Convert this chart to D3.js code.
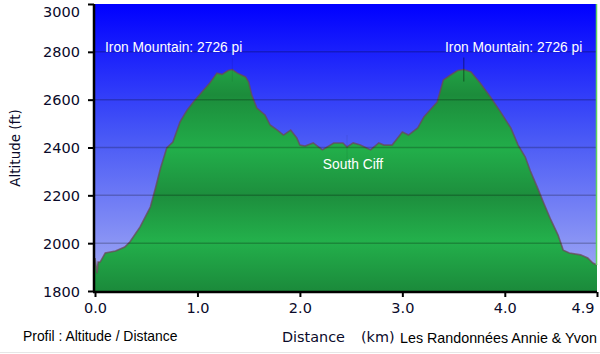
<!DOCTYPE html>
<html>
<head>
<meta charset="utf-8">
<script src="https://cdn.jsdelivr.net/npm/d3@7"></script>
<style>
  body { margin: 0; background: #fff; }
</style>
</head>
<body>
<script>
// profile data
var distances = [0, 0.02, 0.03, 0.05, 0.10, 0.20, 0.29, 0.34, 0.44, 0.54, 0.59, 0.64, 0.70, 0.76, 0.83, 0.90, 0.96,
  1.06, 1.12, 1.19, 1.24, 1.30, 1.34, 1.39, 1.47, 1.50, 1.53, 1.58, 1.66, 1.71, 1.78, 1.84, 1.91, 1.97,
  2.00, 2.05, 2.13, 2.22, 2.33, 2.42, 2.46, 2.52, 2.59, 2.69, 2.77, 2.82, 2.90,
  3.00, 3.06, 3.15, 3.21, 3.27, 3.34, 3.40, 3.47, 3.54, 3.60, 3.67, 3.76, 3.86, 3.96,
  4.06, 4.13, 4.20, 4.25, 4.32, 4.38, 4.45, 4.52, 4.57, 4.63, 4.74, 4.81, 4.86, 4.90];
var altitudes = [1938, 1875, 1921, 1921, 1959, 1967, 1984, 2005, 2068, 2151, 2231, 2314, 2398, 2423, 2507, 2557, 2590,
  2640, 2670, 2711, 2706, 2722, 2726, 2711, 2695, 2674, 2620, 2565, 2536, 2494, 2473, 2452, 2473, 2440,
  2410, 2406, 2419, 2390, 2419, 2419, 2402, 2419, 2410, 2390, 2419, 2410, 2410,
  2465, 2452, 2482, 2528, 2557, 2590, 2682, 2703, 2722, 2726, 2716, 2670, 2611, 2548,
  2481, 2410, 2360, 2302, 2231, 2168, 2097, 2034, 1971, 1959, 1951, 1938, 1917, 1909];

var yTicks = [1800, 2000, 2200, 2400, 2600, 2800, 3000];
var xTicks = [0, 1, 2, 3, 4, 4.9];

var waypointNames = ["Iron Mountain: 2726 pi", "South Ciff", "Iron Mountain: 2726 pi"];
var waypointDist = [1.34, 2.46, 3.60];
var waypointAlt = [2726, 2402, 2726];

var chart = {
  width: 600,
  height: 354,
  left: 95,
  right: 597,
  top: 4,
  bottom: 291
}

var svg = d3.select("body").append("svg")
  .attr("width", chart.width)
  .attr("height", chart.height)
  .style("display", "block");

var x = d3.scaleLinear().domain([0, 4.9]).range([chart.left, chart.right]);
var y = d3.scaleLinear().domain([1800, 3000]).range([chart.bottom, chart.top]);

var defs = svg.append("defs");

var sky = defs.append("linearGradient")
  .attr("id", "sky")
  .attr("gradientUnits", "userSpaceOnUse")
  .attr("x1", 0).attr("x2", 0)
  .attr("y1", chart.top).attr("y2", chart.bottom);
sky.append("stop").attr("offset", 0).attr("stop-color", "#0000ff");
sky.append("stop").attr("offset", 0.45).attr("stop-color", "#4656f6");
sky.append("stop").attr("offset", 1).attr("stop-color", "#a8b0f4");

var grass = defs.append("linearGradient")
  .attr("id", "grass")
  .attr("gradientUnits", "userSpaceOnUse")
  .attr("x1", 0).attr("x2", 0)
  .attr("y1", chart.top).attr("y2", chart.bottom);
var grassStops = [[2740, "#22a446"], [2620, "#1c8c3b"], [2390, "#22ae4a"], [2200, "#1d8e3d"], [2010, "#23b04b"], [1800, "#1b8a3b"]];
grassStops.forEach(function(s) {
  grass.append("stop")
    .attr("offset", (y(s[0]) - chart.top) / (chart.bottom - chart.top))
    .attr("stop-color", s[1]);
});

// plot background
svg.append("rect")
  .attr("x", chart.left)
  .attr("y", chart.top)
  .attr("width", chart.right - chart.left)
  .attr("height", chart.bottom - chart.top)
  .attr("fill", "url(#sky)");

var points = distances.map(function(d, i) { return [d, altitudes[i]]; });

var area = d3.area()
  .x(function(d) { return x(d[0]); })
  .y0(y(1800))
  .y1(function(d) { return y(d[1]); });

var line = d3.line()
  .x(function(d) { return x(d[0]); })
  .y(function(d) { return y(d[1]); });

svg.append("path")
  .datum(points)
  .attr("d", area)
  .attr("fill", "url(#grass)");

svg.append("path")
  .datum(points)
  .attr("d", line)
  .attr("fill", "none")
  .attr("stroke", "#6a4a55")
  .attr("stroke-opacity", 0.75)
  .attr("stroke-width", 1.6);

// grid lines
svg.selectAll("line.grid").data(yTicks.slice(1, -1))
  .enter().append("line")
  .attr("class", "grid")
  .attr("x1", chart.left).attr("x2", chart.right)
  .attr("y1", function(d) { return y(d); })
  .attr("y2", function(d) { return y(d); })
  .attr("stroke", "#000")
  .attr("stroke-opacity", 0.22)
  .attr("stroke-width", 1.5);

// end marker on the right edge
svg.append("line")
  .attr("x1", x(4.9) - 0.5).attr("x2", x(4.9) - 0.5)
  .attr("y1", chart.top).attr("y2", y(altitudes[altitudes.length - 1]))
  .attr("stroke", "#5ed35e")
  .attr("stroke-width", 1.5);

// waypoint markers
svg.selectAll("line.wp").data(waypointDist)
  .enter().append("line")
  .attr("class", "wp")
  .attr("x1", function(d) { return x(d); })
  .attr("x2", function(d) { return x(d); })
  .attr("y1", function(d, i) { return y(waypointAlt[i]) - 12; })
  .attr("y2", function(d, i) { return y(waypointAlt[i]) + 12; })
  .attr("stroke", "#000")
  .attr("stroke-opacity", function(d, i) { return i == 2 ? 0.45 : 0.08; })
  .attr("stroke-width", 1);

// waypoint labels
var labelPos = [[105, 52], [353, 169], [445, 52]];
svg.selectAll("text.wp").data(waypointNames)
  .enter().append("text")
  .attr("class", "wp")
  .attr("x", function(d, i) { return labelPos[i][0]; })
  .attr("y", function(d, i) { return labelPos[i][1]; })
  .attr("text-anchor", function(d, i) { return i == 1 ? "middle" : "start"; })
  .attr("font-family", "Liberation Sans, Arial, sans-serif")
  .attr("font-size", 13.8)
  .attr("fill", "#fff")
  .text(function(d) { return d; });

// axes
var yAxis = d3.axisLeft(y).tickValues(yTicks).tickSize(6).tickPadding(8).tickFormat(d3.format("d"));
var xAxis = d3.axisBottom(x).tickValues(xTicks).tickSize(5).tickPadding(6).tickFormat(d3.format(".1f"));

var gy = svg.append("g")
  .attr("transform", "translate(" + (chart.left - 1) + ",0)")
  .call(yAxis);
var gx = svg.append("g")
  .attr("transform", "translate(0," + (chart.bottom + 1) + ")")
  .call(xAxis);

[gx, gy].forEach(function(g) {
  g.select(".domain").attr("stroke", "#000").attr("stroke-width", 2.5);
  g.selectAll(".tick line").attr("stroke", "#000").attr("stroke-width", 2);
  g.selectAll(".tick text")
    .attr("font-family", "DejaVu Sans, Verdana, sans-serif")
    .attr("font-size", 14.5)
    .attr("fill", "#0a0a2a");
});
gy.selectAll(".tick text").attr("dy", function(d) { return d == 3000 ? "0.85em" : "0.35em"; });
gy.select(".domain").attr("d", "M0," + chart.top + "V" + (chart.bottom + 1));
gx.select(".domain").attr("d", "M" + (chart.left - 2) + ",0H" + chart.right);
gx.selectAll(".tick text")
  .filter(function(d) { return d == 4.9; })
  .attr("text-anchor", "end")
  .attr("dx", 0);
gx.selectAll(".tick text")
  .filter(function(d) { return d == 4.9; })
  .attr("x", -3);

// axis titles
svg.append("text")
  .attr("transform", "translate(20,148) rotate(-90)")
  .attr("text-anchor", "middle")
  .attr("font-family", "DejaVu Sans, Verdana, sans-serif")
  .attr("font-size", 13.5)
  .attr("fill", "#0a0a2a")
  .text("Altitude (ft)");

svg.append("text")
  .attr("x", 282).attr("y", 342)
  .attr("font-family", "DejaVu Sans, Verdana, sans-serif")
  .attr("font-size", 14.4)
  .attr("fill", "#0a0a2a")
  .text("Distance");

svg.append("text")
  .attr("x", 361).attr("y", 342)
  .attr("font-family", "DejaVu Sans, Verdana, sans-serif")
  .attr("font-size", 14.4)
  .attr("fill", "#0a0a2a")
  .text("(km)");

svg.append("text")
  .attr("x", 400).attr("y", 343)
  .attr("font-family", "Liberation Sans, Arial, sans-serif")
  .attr("font-size", 14.3)
  .attr("fill", "#000")
  .text("Les Randonnées Annie & Yvon");

svg.append("text")
  .attr("x", 23).attr("y", 341)
  .attr("font-family", "Liberation Sans, Arial, sans-serif")
  .attr("font-size", 13.9)
  .attr("fill", "#000")
  .text("Profil : Altitude / Distance");

// thin separator at the very bottom
svg.append("line")
  .attr("x1", 0).attr("x2", chart.width)
  .attr("y1", 352.5).attr("y2", 352.5)
  .attr("stroke", "#e6e6e6");
</script>
</body>
</html>
